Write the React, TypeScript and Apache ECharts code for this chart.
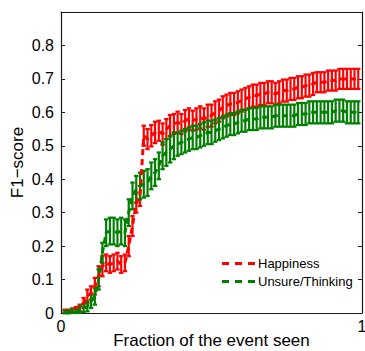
import React, { useEffect, useRef } from "react";
import * as echarts from "echarts";

const fractions = [
  0.0125, 0.025, 0.0375, 0.05, 0.0625, 0.075, 0.0875, 0.1, 0.1125, 0.125,
  0.1375, 0.15, 0.1625, 0.175, 0.1875, 0.2, 0.2125, 0.225, 0.2375, 0.25,
  0.2625, 0.275, 0.2875, 0.3, 0.3125, 0.325, 0.3375, 0.35, 0.3625, 0.375,
  0.3875, 0.4, 0.4125, 0.425, 0.4375, 0.45, 0.4625, 0.475, 0.4875, 0.5,
  0.5125, 0.525, 0.5375, 0.55, 0.5625, 0.575, 0.5875, 0.6, 0.6125, 0.625,
  0.6375, 0.65, 0.6625, 0.675, 0.6875, 0.7, 0.7125, 0.725, 0.7375, 0.75,
  0.7625, 0.775, 0.7875, 0.8, 0.8125, 0.825, 0.8375, 0.85, 0.8625, 0.875,
  0.8875, 0.9, 0.9125, 0.925, 0.9375, 0.95, 0.9625, 0.975, 0.9875,
];

const happinessMean = [
  0.005, 0.005, 0.008, 0.01, 0.015, 0.03, 0.05, 0.06, 0.08, 0.11,
  0.14, 0.15, 0.145, 0.15, 0.155, 0.145, 0.15, 0.2, 0.26, 0.33,
  0.35, 0.53, 0.52, 0.53, 0.54, 0.545, 0.535, 0.55, 0.56, 0.565,
  0.57, 0.565, 0.575, 0.58, 0.575, 0.58, 0.585, 0.58, 0.59, 0.59,
  0.6, 0.605, 0.615, 0.62, 0.625, 0.625, 0.63, 0.635, 0.64, 0.645,
  0.65, 0.65, 0.655, 0.655, 0.66, 0.66, 0.655, 0.66, 0.665, 0.665,
  0.67, 0.67, 0.675, 0.675, 0.68, 0.68, 0.685, 0.69, 0.69, 0.69,
  0.695, 0.695, 0.695, 0.7, 0.7, 0.7, 0.7, 0.7, 0.7,
];

const happinessErr = [
  0.005, 0.005, 0.006, 0.008, 0.01, 0.015, 0.02, 0.02, 0.025, 0.03,
  0.03, 0.025, 0.025, 0.025, 0.025, 0.025, 0.025, 0.03, 0.03, 0.03,
  0.03, 0.03, 0.03, 0.032, 0.032, 0.03, 0.032, 0.03, 0.032, 0.03,
  0.032, 0.03, 0.032, 0.032, 0.03, 0.032, 0.033, 0.032, 0.033, 0.033,
  0.033, 0.033, 0.033, 0.033, 0.033, 0.033, 0.033, 0.033, 0.033, 0.033,
  0.033, 0.033, 0.033, 0.033, 0.033, 0.033, 0.033, 0.033, 0.033, 0.033,
  0.033, 0.033, 0.033, 0.033, 0.033, 0.033, 0.033, 0.03, 0.03, 0.03,
  0.03, 0.03, 0.03, 0.03, 0.03, 0.03, 0.03, 0.03, 0.03,
];

const unsureMean = [
  0.003, 0.004, 0.005, 0.006, 0.01, 0.015, 0.02, 0.035, 0.05, 0.1,
  0.18, 0.24, 0.245, 0.245, 0.24, 0.245, 0.24, 0.3, 0.35, 0.37,
  0.38, 0.385, 0.39, 0.41, 0.42, 0.44, 0.47, 0.48, 0.49, 0.5,
  0.505, 0.51, 0.515, 0.52, 0.525, 0.525, 0.53, 0.535, 0.54, 0.54,
  0.545, 0.55, 0.555, 0.56, 0.565, 0.565, 0.57, 0.575, 0.575, 0.58,
  0.58, 0.58, 0.585, 0.585, 0.585, 0.585, 0.59, 0.59, 0.59, 0.59,
  0.59, 0.59, 0.595, 0.595, 0.595, 0.6, 0.6, 0.6, 0.6, 0.6,
  0.6, 0.6, 0.605, 0.605, 0.605, 0.6, 0.6, 0.6, 0.6,
];

const unsureErr = [
  0.004, 0.005, 0.005, 0.006, 0.01, 0.012, 0.015, 0.02, 0.025, 0.03,
  0.03, 0.04, 0.04, 0.04, 0.04, 0.04, 0.04, 0.04, 0.04, 0.04,
  0.04, 0.04, 0.04, 0.04, 0.04, 0.04, 0.04, 0.04, 0.04, 0.04,
  0.035, 0.035, 0.035, 0.035, 0.035, 0.035, 0.035, 0.035, 0.035, 0.035,
  0.033, 0.033, 0.033, 0.033, 0.033, 0.033, 0.033, 0.033, 0.033, 0.033,
  0.033, 0.033, 0.033, 0.033, 0.033, 0.033, 0.033, 0.033, 0.033, 0.033,
  0.033, 0.033, 0.033, 0.033, 0.033, 0.033, 0.033, 0.033, 0.033, 0.033,
  0.033, 0.033, 0.033, 0.033, 0.033, 0.033, 0.033, 0.033, 0.033,
];

const yTicks = ["0", "0.1", "0.2", "0.3", "0.4", "0.5", "0.6", "0.7", "0.8", ""];
const seriesNames = ["Happiness", "Unsure/Thinking"];
const RED = "#ff0000";
const GREEN = "#008000";
const FONT = "Liberation Sans, Arial, Helvetica, sans-serif";
const DASH_ICON = "path://M0,0h7v3h-7z M13,0h7v3h-7z M26,0h7v3h-7z";

function errorSeries(name: string, mean: number[], err: number[], color: string) {
  return {
    name,
    type: "custom",
    z: 3,
    clip: false,
    encode: { x: 0, y: 1 },
    data: fractions.map((x, i) => [x, mean[i], err[i]]),
    renderItem: (params: any, api: any) => {
      const x = api.value(0);
      const y = api.value(1);
      const e = api.value(2);
      const top = api.coord([x, y + e]);
      const bot = api.coord([x, y - e]);
      const hw = 2.2;
      const style = { stroke: color, lineWidth: 2.2 };
      return {
        type: "group",
        children: [
          { type: "line", shape: { x1: top[0], y1: top[1], x2: bot[0], y2: bot[1] }, style },
          { type: "line", shape: { x1: top[0] - hw, y1: top[1], x2: top[0] + hw, y2: top[1] }, style },
          { type: "line", shape: { x1: bot[0] - hw, y1: bot[1], x2: bot[0] + hw, y2: bot[1] }, style },
        ],
      };
    },
  };
}

function lineSeries(name: string, mean: number[], color: string) {
  return {
    name,
    type: "line",
    z: 4,
    symbol: "none",
    data: fractions.map((x, i) => [x, mean[i]]),
    lineStyle: { color, width: 3, type: [6, 4] },
    itemStyle: { color },
  };
}

export default function App() {
  const ref = useRef<HTMLDivElement>(null);
  useEffect(() => {
    if (!ref.current) return;
    const chart = echarts.init(ref.current, undefined, { renderer: "svg" });
    const axisLine = { show: true, onZero: false, lineStyle: { color: "#1a1a1a", width: 1.2 } };
    const tick = { show: true, inside: true, length: 4, lineStyle: { color: "#1a1a1a" } };
    chart.setOption({
      animation: false,
      backgroundColor: "#ffffff",
      grid: { left: 61, right: 3, top: 12, bottom: 38, outerBoundsMode: "none", containLabel: false },
      legend: {
        data: seriesNames.map((n) => ({ name: n, icon: DASH_ICON })),
        orient: "vertical",
        left: 222,
        top: 257,
        padding: 0,
        itemWidth: 33,
        itemHeight: 3,
        itemGap: 5,
        textStyle: { fontFamily: FONT, fontSize: 13, color: "#000", padding: [0, 0, 0, -2] },
      },
      xAxis: [
        {
          type: "value",
          min: 0,
          max: 1,
          interval: 1,
          axisLine,
          axisTick: { show: false },
          splitLine: { show: false },
          axisLabel: { fontFamily: FONT, fontSize: 16, color: "#000", margin: 5 },
          name: "Fraction of the event seen",
          nameLocation: "middle",
          nameGap: 19,
          nameMoveOverlap: false,
          nameTextStyle: { fontFamily: FONT, fontSize: 17, color: "#000" },
        },
        {
          type: "value",
          position: "top",
          min: 0,
          max: 1,
          interval: 1,
          axisLine,
          axisTick: { show: false },
          axisLabel: { show: false },
          splitLine: { show: false },
        },
      ],
      yAxis: [
        {
          type: "value",
          min: 0,
          max: 0.9,
          interval: 0.1,
          axisLine,
          axisTick: tick,
          splitLine: { show: false },
          axisLabel: {
            fontFamily: FONT,
            fontSize: 16,
            color: "#000",
            margin: 7,
            formatter: (v: number) => yTicks[Math.round(v * 10)] ?? "",
          },
          name: "F1\u2212score",
          nameLocation: "middle",
          nameGap: 35,
          nameMoveOverlap: false,
          nameTextStyle: { fontFamily: FONT, fontSize: 17, color: "#000" },
        },
        {
          type: "value",
          position: "right",
          min: 0,
          max: 0.9,
          interval: 0.1,
          axisLine,
          axisTick: tick,
          axisLabel: { show: false },
          splitLine: { show: false },
        },
      ],
      series: [
        lineSeries(seriesNames[0], happinessMean, RED),
        lineSeries(seriesNames[1], unsureMean, GREEN),
        errorSeries("happinessErr", happinessMean, happinessErr, RED),
        errorSeries("unsureErr", unsureMean, unsureErr, GREEN),
      ],
    });
    return () => chart.dispose();
  }, []);
  return (
    <div
      ref={ref}
      style={{ position: "fixed", left: 0, top: 0, width: 365, height: 351, background: "#fff" }}
    />
  );
}
